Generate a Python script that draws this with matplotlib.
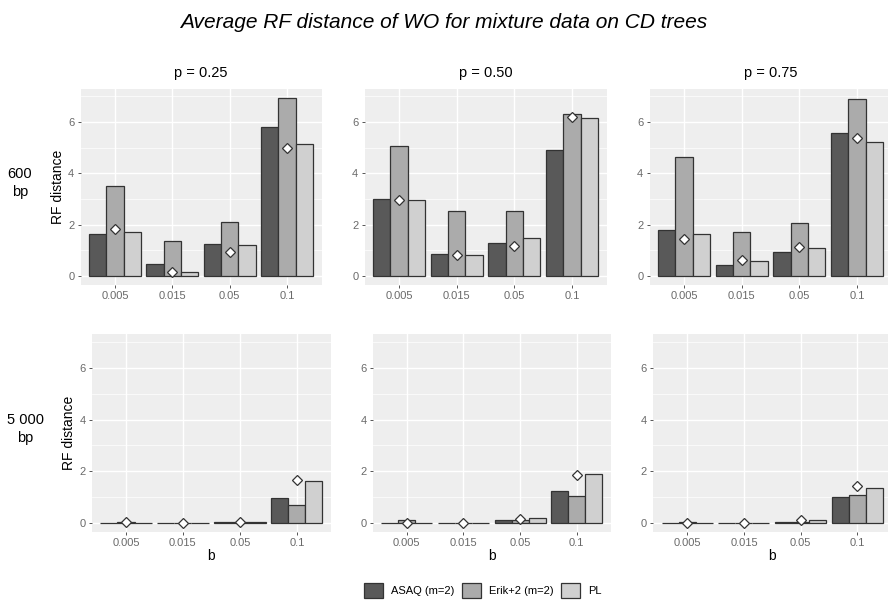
import matplotlib
matplotlib.use("Agg")
import matplotlib.pyplot as plt
from matplotlib.patches import Patch
import numpy as np

plt.rcParams['font.family'] = ['Liberation Sans', 'DejaVu Sans']

# b levels on the x axis, p values for the columns, lengths for the rows
b_levels = ["0.005", "0.015", "0.05", "0.1"]
p_titles = ["p = 0.25", "p = 0.50", "p = 0.75"]
row_names = ["600\nbp", "5 000\nbp"]
methods = ["ASAQ (m=2)", "Erik+2 (m=2)", "PL"]

# average RF distance, one list per p value (0.25, 0.50, 0.75)
asaq_600 = [[1.63, 0.48, 1.24, 5.80], [3.01, 0.85, 1.30, 4.90], [1.78, 0.44, 0.95, 5.56]]
erik_600 = [[3.50, 1.36, 2.10, 6.94], [5.08, 2.54, 2.54, 6.30], [4.63, 1.72, 2.06, 6.88]]
pl_600 = [[1.71, 0.16, 1.22, 5.14], [2.95, 0.80, 1.48, 6.15], [1.63, 0.57, 1.10, 5.23]]
wo_600 = [[1.84, 0.16, 0.95, 4.99], [2.98, 0.83, 1.18, 6.19], [1.46, 0.61, 1.12, 5.39]]

asaq_5000 = [[0.01, 0.01, 0.02, 0.95], [0.01, 0.01, 0.10, 1.23], [0.01, 0.01, 0.03, 1.00]]
erik_5000 = [[0.05, 0.01, 0.05, 0.71], [0.10, 0.01, 0.10, 1.06], [0.05, 0.01, 0.04, 1.07]]
pl_5000 = [[0.01, 0.01, 0.05, 1.63], [0.01, 0.01, 0.21, 1.88], [0.01, 0.01, 0.13, 1.35]]
wo_5000 = [[0.02, 0.00, 0.05, 1.67], [0.01, 0.00, 0.17, 1.84], [0.01, 0.00, 0.10, 1.45]]

fills = ["#595959", "#ABABAB", "#D0D0D0"]
edge = "#333333"

W, H = 888, 603
fig = plt.figure(figsize=(W / 100, H / 100), dpi=100)

# panel boxes in pixels: left, right, top, bottom
boxes = [
    [(80.5, 321.5, 88.6, 285), (364.5, 606.5, 88.6, 285), (649.5, 891.5, 88.6, 285)],
    [(91.8, 331, 334.4, 532), (372.7, 610.7, 334.4, 532), (653.3, 891.3, 334.4, 532)],
]

rows = [(asaq_600, erik_600, pl_600, wo_600), (asaq_5000, erik_5000, pl_5000, wo_5000)]

x = np.arange(len(b_levels))
w = 0.3
for r in range(2):
    asaq, erik, pl, wo = rows[r]
    for c in range(3):
        l, rt, t, b = boxes[r][c]
        ax = fig.add_axes([l / W, 1 - b / H, (rt - l) / W, (b - t) / H])
        ax.set_facecolor("#EEEEEE")
        for k, vals in enumerate([asaq[c], erik[c], pl[c]]):
            ax.bar(x + (k - 1) * w, vals, width=w, color=fills[k], edgecolor=edge,
                   linewidth=0.9, zorder=3)
        ax.plot(x, wo[c], linestyle="none", marker="D", markersize=5.5,
                markerfacecolor="white", markeredgecolor=edge, markeredgewidth=0.9, zorder=4)
        ax.set_xlim(-0.6, 3.6)
        ax.set_ylim(-0.35, 7.3)
        ax.set_xticks(x)
        ax.set_xticklabels(b_levels)
        ax.set_yticks([0, 2, 4, 6])
        ax.set_yticks([1, 3, 5, 7], minor=True)
        ax.grid(which="major", color="white", linewidth=1.0, zorder=0)
        ax.grid(which="minor", axis="y", color="white", linewidth=0.5, zorder=0)
        ax.tick_params(which="major", length=2.5, width=0.7, color="#555555",
                       labelsize=8, labelcolor="#6A6A6A", pad=2)
        ax.tick_params(which="minor", length=0)
        for s in ax.spines.values():
            s.set_visible(False)
        ax.set_axisbelow(True)
        if r == 0:
            fig.text((l + rt) / 2 / W, 1 - 73 / H, p_titles[c], ha="center", va="center",
                     fontsize=10.5)
        else:
            fig.text((l + rt) / 2 / W, 1 - 556 / H, "b", ha="center", va="center",
                     fontsize=10)
        if c == 0:
            fig.text((l - 23) / W, 1 - (t + b) / 2 / H, "RF distance", rotation=90,
                     ha="center", va="center", fontsize=10)

# row labels on the left
fig.text(20 / W, 1 - 183 / H, row_names[0], ha="center", va="center", fontsize=10.5,
         linespacing=1.45)
fig.text(25 / W, 1 - 429 / H, row_names[1], ha="center", va="center", fontsize=10.5,
         linespacing=1.45)

fig.text(0.5, 1 - 22 / H, "Average RF distance of WO for mixture data on CD trees",
         ha="center", va="center", fontsize=15, style="italic")

handles = [Patch(facecolor=fills[k], edgecolor=edge, linewidth=0.9) for k in range(3)]
fig.legend(handles, methods, loc="center", bbox_to_anchor=(483 / W, 1 - 590 / H), ncol=3,
           frameon=False, fontsize=8, handlelength=1.7, handleheight=1.7,
           handletextpad=0.7, columnspacing=0.7)

fig.savefig("out.png", dpi=100)
